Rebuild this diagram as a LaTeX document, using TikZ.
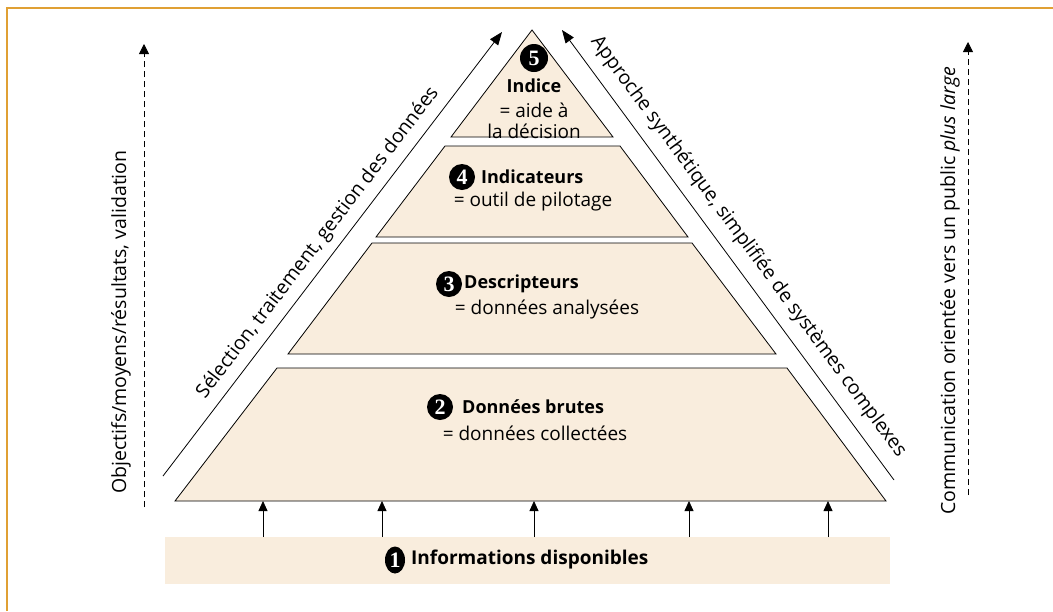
\documentclass[tikz,border=0pt]{standalone}
\usepackage{fontspec}
\setmainfont{Open Sans}
\newfontfamily\numfont{Liberation Serif}
\usetikzlibrary{arrows.meta,calc,shapes.geometric}
\definecolor{beige}{RGB}{249,237,221}
\definecolor{frameor}{RGB}{224,160,52}
\begin{document}
\begin{tikzpicture}[x=1pt,y=-1pt,
  tier/.style={fill=beige,draw=black,line width=0.8pt},
  num/.style={circle,fill=black,text=white,inner sep=0pt,minimum size=26pt,font=\numfont\bfseries\fontsize{22}{22}\selectfont},
  lbl/.style={inner sep=0pt,font=\fontsize{19}{19}\selectfont},
  ttl/.style={inner sep=0pt,font=\bfseries\fontsize{18}{18}\selectfont},
  side/.style={inner sep=0pt,font=\fontsize{19.5}{19.5}\selectfont},
  arr/.style={line width=0.8pt,-{Triangle[length=10pt,width=9pt]}},
  darr/.style={line width=0.8pt,dashed,dash pattern=on 6pt off 4pt,-{Triangle[length=10pt,width=10pt]}}
]
\useasboundingbox (0,0) rectangle (1053,611);
% frame
\draw[frameor,line width=1.2pt] (7,611) -- (7,8) -- (1053,8);

% pyramid tiers
\coordinate (t2bl) at (175,501);
\coordinate (t2br) at (886,501);
\draw[tier] (532,30) -- (613,137) -- (451,137) -- cycle;
\draw[tier] (445,146) -- (620,146) -- (688,237) -- (376,237) -- cycle;
\draw[tier] (372,243) -- (692,243) -- (776,354) -- (288,354) -- cycle;
\draw[tier] (277,368) -- (787,368) -- (t2br) -- (t2bl) -- cycle;

% bottom box
\node[fill=beige,minimum width=725pt,minimum height=47pt,inner sep=0pt] (box) at (527.5,560.5) {};
\node[ellipse,fill=black,text=white,inner sep=0pt,minimum width=20pt,minimum height=27pt,font=\numfont\bfseries\fontsize{22}{22}\selectfont] (n1) at (395,560) {1};
\node[ttl,anchor=west,font=\bfseries\fontsize{19}{19}\selectfont] (i1) at (411,560) {Informations disponibles};

% arrows from box to pyramid
\foreach \x/\n in {263/a,382/b,534/c,689/d,828/e}{
  \coordinate (s\n) at (\x,537);
  \coordinate (e\n) at (\x,501);
  \draw[arr] (s\n) -- (e\n);
}

% tier 5
\node[num,minimum size=28pt] (n5) at (534,58) {5};
\node[ttl] (i5) at (534,86) {Indice};
\node[lbl] (d5a) at (534,110) {= aide à};
\node[lbl] (d5b) at (534,131) {la décision};
% tier 4
\node[num] (n4) at (462,177) {4};
\node[ttl,anchor=west] (i4) at (481,177) {Indicateurs};
\node[lbl] (d4) at (533,202) {= outil de pilotage};
% tier 3
\node[num] (n3) at (449,284) {3};
\node[ttl,anchor=west] (i3) at (464,284) {Descripteurs};
\node[lbl] (d3) at (547,309) {= données analysées};
% tier 2
\node[num] (n2) at (440,407) {2};
\node[ttl,anchor=west] (i2) at (462,407) {Données brutes};
\node[lbl] (d2) at (535,433) {= données collectées};

% diagonal arrows
\coordinate (ls) at (163,476);
\coordinate (le) at (502,32);
\draw[arr,-{Triangle[length=13pt,width=10pt]}] (ls) -- node[side,sloped,above=8pt,midway] (lt) {Sélection, traitement, gestion des données} (le);
\coordinate (rs) at (894,480);
\coordinate (re) at (562,30);
\draw[arr,-{Triangle[length=13pt,width=10pt]}] (rs) -- node[side,sloped,above=11pt,pos=0.49] (rt) {Approche synthétique, simplifiée de systèmes complexes} (re);

% dashed vertical arrows
\coordinate (dls) at (144,507);
\coordinate (dle) at (144,44);
\draw[darr] (dls) -- (dle);
\node[side,rotate=90] (dlt) at (121,322) {Objectifs/moyens/résultats, validation};
\coordinate (drs) at (968,495);
\coordinate (dre) at (968,42);
\draw[darr] (drs) -- (dre);
\node[side,rotate=90] (drt) at (950,291) {Communication orientée vers un public \textit{plus large}};
\end{tikzpicture}
\end{document}
